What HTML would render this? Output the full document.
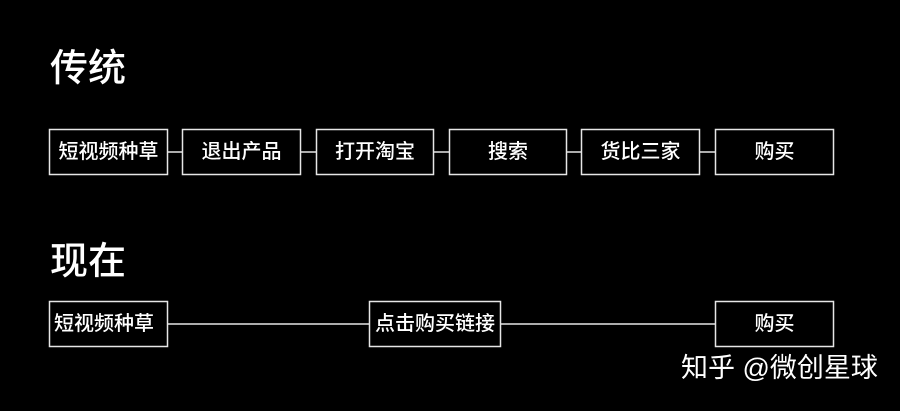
<!DOCTYPE html>
<html>
<head>
<meta charset="utf-8">
<style>
html,body{margin:0;padding:0;background:#000;}
body{width:900px;height:406px;overflow:hidden;}
svg text{font-family:"Liberation Sans","Noto Sans CJK SC",sans-serif;fill:#fff;}
</style>
</head>
<body>
<svg width="900" height="406" viewBox="0 0 900 406" xmlns="http://www.w3.org/2000/svg">
<rect width="900" height="406" fill="#000"/>
<!-- Titles -->
<text x="50" y="69" font-size="38" font-weight="500" dominant-baseline="central">传统</text>
<text x="50" y="262" font-size="38" font-weight="500" dominant-baseline="central">现在</text>

<g stroke="#e6e6e6" stroke-width="1.5" fill="none">
  <!-- row 1 boxes -->
  <rect x="49.5" y="129.5" width="118" height="45"/>
  <rect x="182.5" y="129.5" width="118" height="45"/>
  <rect x="316.5" y="129.5" width="117" height="45"/>
  <rect x="449.5" y="129.5" width="117" height="45"/>
  <rect x="581.5" y="129.5" width="118" height="45"/>
  <rect x="715.5" y="129.5" width="118" height="45"/>
  <!-- row 1 connectors -->
  <line x1="168" y1="152" x2="182" y2="152"/>
  <line x1="301" y1="152" x2="316" y2="152"/>
  <line x1="434" y1="152" x2="449" y2="152"/>
  <line x1="567" y1="152" x2="581" y2="152"/>
  <line x1="700" y1="152" x2="715" y2="152"/>
  <!-- row 2 boxes -->
  <rect x="49.5" y="301.5" width="118" height="45"/>
  <rect x="369.5" y="301.5" width="131" height="45"/>
  <rect x="715.5" y="301.5" width="118" height="45"/>
  <!-- row 2 connectors -->
  <line x1="168" y1="324" x2="369" y2="324"/>
  <line x1="501" y1="324" x2="715" y2="324"/>
</g>

<g font-size="20" font-weight="500" text-anchor="middle" dominant-baseline="central">
  <text x="108.5" y="152">短视频种草</text>
  <text x="241.5" y="152">退出产品</text>
  <text x="375" y="152">打开淘宝</text>
  <text x="508" y="152">搜索</text>
  <text x="640.5" y="152">货比三家</text>
  <text x="774.5" y="152">购买</text>

  <text x="104" y="324">短视频种草</text>
  <text x="435" y="324">点击购买链接</text>
  <text x="774.5" y="324">购买</text>
</g>

<text x="681" y="368" font-size="27" dominant-baseline="central" fill="#fff">知乎 @微创星球</text>
</svg>
</body>
</html>
